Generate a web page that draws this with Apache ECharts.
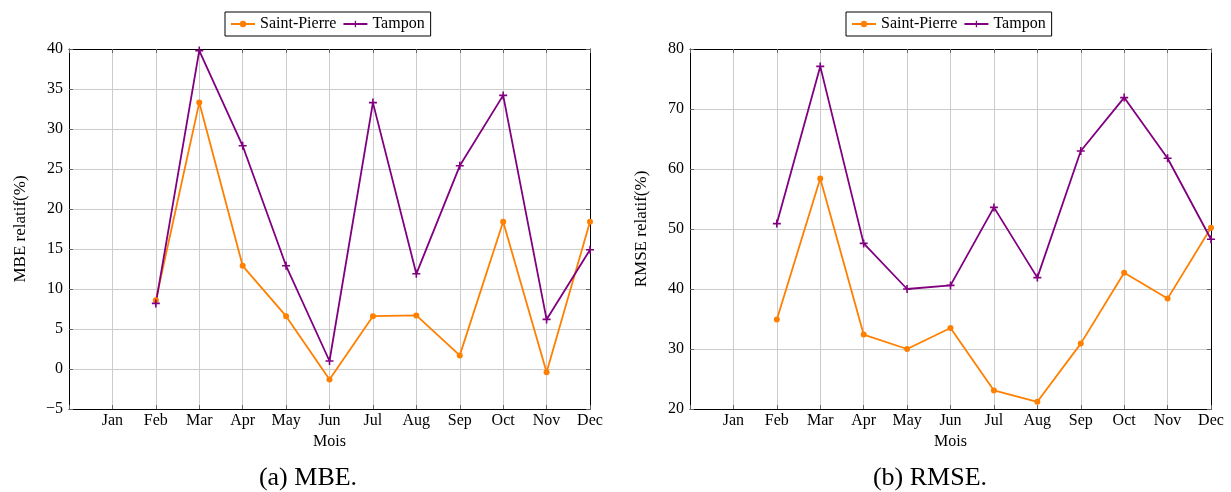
<!DOCTYPE html>
<html>
<head>
<meta charset="utf-8">
<script src="https://cdn.jsdelivr.net/npm/echarts@6/dist/echarts.min.js"></script>
<style>
html,body{margin:0;padding:0;background:#fff;}
#c{width:1231px;height:492px;}
</style>
</head>
<body>
<div id="c"></div>
<script>
const months = ['Jan','Feb','Mar','Apr','May','Jun','Jul','Aug','Sep','Oct','Nov','Dec'];
const seriesNames = ['Saint-Pierre','Tampon'];
const mbeSaintPierre = [null, 8.6, 33.3, 12.9, 6.6, -1.3, 6.6, 6.7, 1.7, 18.4, -0.4, 18.4];
const mbeTampon = [null, 8.2, 39.8, 27.9, 12.9, 1.0, 33.3, 11.9, 25.4, 34.2, 6.2, 14.9];
const rmseSaintPierre = [null, 34.9, 58.4, 32.4, 30.0, 33.5, 23.1, 21.2, 30.9, 42.7, 38.4, 50.2];
const rmseTampon = [null, 50.9, 77.1, 47.6, 40.0, 40.6, 53.6, 41.9, 63.0, 71.9, 61.8, 48.3];
const yTitles = ['MBE relatif(%)', 'RMSE relatif(%)'];
const xTitle = 'Mois';
const captions = ['(a) MBE.', '(b) RMSE.'];

const FONT = '"Liberation Serif", "DejaVu Serif", serif';
const ORANGE = '#ff8000';
const PURPLE = '#800080';
const PLUS = 'path://M4,0h2v4h4v2h-4v4h-2v-4h-4v-2h4z';

function pairs(arr){
  const out = [];
  arr.forEach((v,i)=>{ if(v!==null) out.push([i+1, v]); });
  return out;
}

const grids = [
  {left:69, right:641, top:49, bottom:83},
  {left:690, right:20, top:49, bottom:83}
];
const yRanges = [{min:-5,max:40,interval:5},{min:20,max:80,interval:10}];

const xAxes = [], yAxes = [];
grids.forEach((g, gi) => {
  xAxes.push({
    type:'value', gridIndex:gi, min:0, max:12, interval:1,
    name:xTitle, nameLocation:'middle', nameGap:24,
    nameTextStyle:{fontFamily:FONT, fontSize:16, color:'#000'},
    axisLine:{show:true, onZero:false, lineStyle:{color:'#000', width:1}},
    axisTick:{show:true, inside:true, length:4, lineStyle:{color:'#666'}},
    axisLabel:{fontFamily:FONT, fontSize:16, color:'#000', margin:4,
      showMinLabel:true, showMaxLabel:true,
      formatter:(v)=> (v>=1 && v<=12) ? months[Math.round(v)-1] : ''},
    splitLine:{show:true, lineStyle:{color:'#cccccc', width:1}}
  });
  xAxes.push({
    type:'value', gridIndex:gi, min:0, max:12, interval:1, position:'top',
    axisLine:{show:true, onZero:false, lineStyle:{color:'#000', width:1}},
    axisTick:{show:true, inside:true, length:4, lineStyle:{color:'#666'}},
    axisLabel:{show:false}, splitLine:{show:false}
  });
  const r = yRanges[gi];
  yAxes.push({
    type:'value', gridIndex:gi, min:r.min, max:r.max, interval:r.interval,
    name:yTitles[gi], nameLocation:'middle', nameGap:40, nameRotate:90,
    nameTextStyle:{fontFamily:FONT, fontSize:17, color:'#000'},
    axisLine:{show:true, onZero:false, lineStyle:{color:'#000', width:1}},
    axisTick:{show:true, inside:true, length:4, lineStyle:{color:'#666'}},
    axisLabel:{fontFamily:FONT, fontSize:16, color:'#000', margin:6,
      formatter:(v)=> String(v).replace('-', '\u2212')},
    splitLine:{show:true, lineStyle:{color:'#cccccc', width:1}}
  });
  yAxes.push({
    type:'value', gridIndex:gi, min:r.min, max:r.max, interval:r.interval, position:'right',
    axisLine:{show:true, onZero:false, lineStyle:{color:'#000', width:1}},
    axisTick:{show:true, inside:true, length:4, lineStyle:{color:'#666'}},
    axisLabel:{show:false}, splitLine:{show:false}
  });
});

function lineSeries(name, data, gi, color, isPlus){
  return {
    name:name, type:'line', xAxisIndex:gi*2, yAxisIndex:gi*2, data:pairs(data),
    symbol: isPlus ? PLUS : 'circle', symbolSize: isPlus ? 8 : 6,
    showAllSymbol:true,
    lineStyle:{color:color, width:1.8},
    itemStyle:{color:color},
    emphasis:{disabled:true},
    animation:false, z:3
  };
}

const series = [
  lineSeries(seriesNames[0], mbeSaintPierre, 0, ORANGE, false),
  lineSeries(seriesNames[1], mbeTampon, 0, PURPLE, true),
  lineSeries(seriesNames[0], rmseSaintPierre, 1, ORANGE, false),
  lineSeries(seriesNames[1], rmseTampon, 1, PURPLE, true)
];

const legendBase = {
  data:seriesNames, top:12, orient:'horizontal',
  borderColor:'#000', borderWidth:1, padding:[4,6,4,5], itemGap:6,
  itemWidth:24, itemHeight:8,
  textStyle:{fontFamily:FONT, fontSize:16, color:'#000'},
  selectedMode:false
};

const chart = echarts.init(document.getElementById('c'), null, {renderer:'canvas'});
chart.setOption({
  backgroundColor:'#fff',
  animation:false,
  grid:grids,
  xAxis:xAxes,
  yAxis:yAxes,
  legend:[
    Object.assign({}, legendBase, {left:225}),
    Object.assign({}, legendBase, {left:846})
  ],
  graphic:[
    {type:'text', x:308, y:478, style:{text:captions[0], fontFamily:FONT, fontSize:26, fill:'#000', textAlign:'center', textVerticalAlign:'middle'}},
    {type:'text', x:930, y:478, style:{text:captions[1], fontFamily:FONT, fontSize:26, fill:'#000', textAlign:'center', textVerticalAlign:'middle'}}
  ],
  series:series
});
</script>
</body>
</html>
